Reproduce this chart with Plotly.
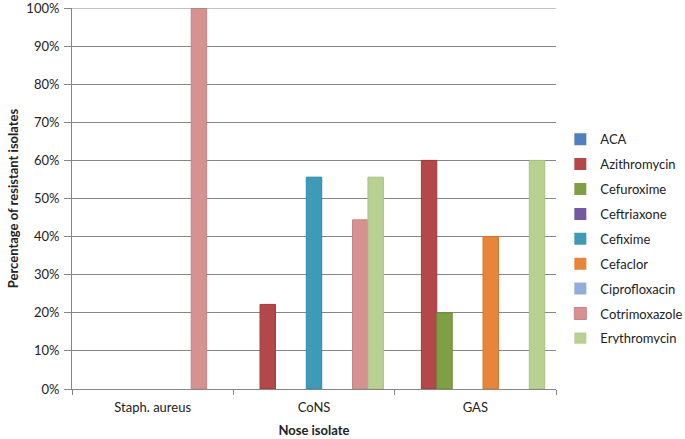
import plotly.graph_objects as go

categories = ["Staph. aureus", "CoNS", "GAS"]
series_names = ["ACA", "Azithromycin", "Cefuroxime", "Ceftriaxone", "Cefixime",
                "Cefaclor", "Ciprofloxacin", "Cotrimoxazole", "Erythromycin"]
aca = [0, 0, 0]
azithromycin = [0, 22.2, 60]
cefuroxime = [0, 0, 20]
ceftriaxone = [0, 0, 0]
cefixime = [0, 55.6, 0]
cefaclor = [0, 0, 40]
ciprofloxacin = [0, 0, 0]
cotrimoxazole = [100, 44.4, 0]
erythromycin = [0, 55.6, 60]
values = [aca, azithromycin, cefuroxime, ceftriaxone, cefixime,
          cefaclor, ciprofloxacin, cotrimoxazole, erythromycin]
y_ticks = [0, 10, 20, 30, 40, 50, 60, 70, 80, 90, 100]

colors = ["#4F81BD", "#B3474A", "#7F9F45", "#7459A0", "#3E9AB6",
          "#E8853A", "#93ADDB", "#D69193", "#B8D193"]
lines = ["#3A6AA3", "#9C3A3A", "#6A8A3A", "#5E4888", "#2E8AA6",
         "#D0752E", "#7F9CCB", "#C88285", "#A8C182"]

fig = go.Figure()
for i, (name, vals) in enumerate(zip(series_names, values)):
    fig.add_trace(go.Bar(
        x=categories, y=vals, name=name,
        marker=dict(color=colors[i],
                    line=dict(color=lines[i], width=[1 if v > 0 else 0 for v in vals])),
        legendgroup=name,
    ))

font = "Lato, 'Open Sans', sans-serif"
fig.update_layout(
    width=685, height=439,
    margin=dict(l=72, r=129, t=8, b=50),
    barmode="group", bargap=0.14, bargroupgap=0,
    plot_bgcolor="white", paper_bgcolor="white",
    font=dict(family=font, size=13, color="#222222"),
    legend=dict(xref="container", yref="container", x=0.818, y=0.467,
                yanchor="middle", xanchor="left",
                tracegroupgap=5, font=dict(size=13, color="#222222"),
                itemwidth=30),
    xaxis=dict(
        title=dict(text="<b>Nose isolate</b>", font=dict(size=13), standoff=12),
        showline=True, linecolor="#868686", linewidth=1,
        ticks="outside", tickson="boundaries", ticklen=5, tickcolor="#868686",
        tickfont=dict(size=13), ticklabelstandoff=6, automargin=False,
    ),
    yaxis=dict(
        title=dict(text="<b>Percentage of resistant isolates</b>", font=dict(size=13), standoff=4),
        range=[0, 100], tickvals=y_ticks, ticktext=[f"{v}%" for v in y_ticks],
        showgrid=True, gridcolor="#868686", gridwidth=1,
        showline=True, linecolor="#868686", linewidth=1,
        ticks="outside", ticklen=7, tickcolor="#868686",
        tickfont=dict(size=13), zeroline=False, automargin=False,
        ticklabeloverflow="allow", ticklabelstandoff=2,
    ),
)
fig.add_shape(type="line", xref="paper", yref="y", x0=0, x1=1, y0=100, y1=100,
              line=dict(color="#868686", width=1))
fig.write_html("out.html", post_script="document.body.style.margin='0';",
               config={"displayModeBar": False})
